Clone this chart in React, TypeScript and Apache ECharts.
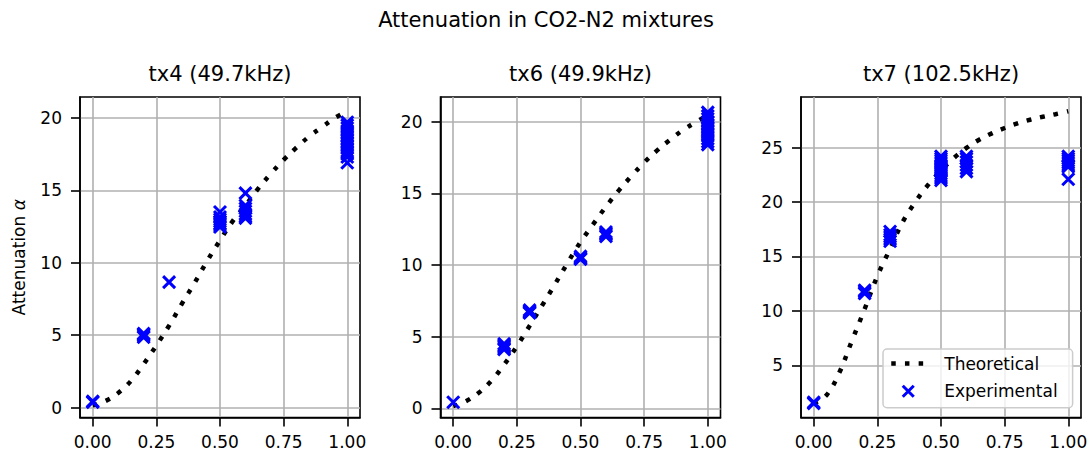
import React, { useEffect, useRef } from 'react';
import * as echarts from 'echarts';

const FONT = 'DejaVu Sans';

const suptitle = 'Attenuation in CO2-N2 mixtures';
const panelTitles = ['tx4 (49.7kHz)', 'tx6 (49.9kHz)', 'tx7 (102.5kHz)'];
const yLabel = 'Attenuation {a|α}';

const xTicks = [0, 0.25, 0.5, 0.75, 1.0];
const yTicksLow = [0, 5, 10, 15, 20];
const yTicksHigh = [5, 10, 15, 20, 25];

const theoryX = [0, 0.05, 0.1, 0.15, 0.2, 0.25, 0.3, 0.35, 0.4, 0.45, 0.5, 0.55, 0.6, 0.65, 0.7, 0.75, 0.8, 0.85, 0.9, 0.95, 1.0];
const tx4Theory = [0.15, 0.45, 1.0, 1.83, 3.0, 4.28, 5.65, 7.16, 8.6, 10.13, 11.54, 12.87, 13.95, 15.11, 16.15, 17.1, 17.94, 18.71, 19.35, 19.98, 20.45];
const tx6Theory = [0.15, 0.5, 1.08, 1.92, 3.05, 4.33, 5.75, 7.2, 8.66, 10.17, 11.6, 12.85, 14.07, 15.19, 16.2, 17.15, 17.98, 18.71, 19.38, 19.94, 20.45];
const tx7Theory = [1.5, 2.25, 4.3, 7.25, 10.17, 13.2, 15.7, 18.2, 20.04, 21.6, 22.9, 24.04, 24.98, 25.73, 26.32, 26.81, 27.23, 27.57, 27.84, 28.08, 28.35];

const tx4ExpX = [0, 0, 0.2, 0.2, 0.2, 0.2, 0.3, 0.5, 0.5, 0.5, 0.5, 0.5, 0.5, 0.5, 0.6, 0.6, 0.6, 0.6, 0.6, 0.6, 0.6, 1, 1, 1, 1, 1, 1, 1, 1, 1, 1, 1, 1, 1, 1];
const tx4ExpY = [0.37, 0.42, 4.85, 4.95, 5.05, 5.1, 8.66, 13.5, 13.15, 13.0, 12.85, 12.7, 12.6, 12.46, 14.8, 13.95, 13.75, 13.55, 13.35, 13.2, 13.08, 19.7, 19.5, 19.3, 19.1, 18.9, 18.7, 18.5, 18.3, 18.1, 17.9, 17.7, 17.5, 17.3, 16.9];

const tx6ExpX = [0, 0.2, 0.2, 0.2, 0.2, 0.2, 0.3, 0.3, 0.3, 0.3, 0.5, 0.5, 0.5, 0.5, 0.6, 0.6, 0.6, 0.6, 1, 1, 1, 1, 1, 1, 1, 1, 1, 1, 1, 1];
const tx6ExpY = [0.42, 4.5, 4.4, 4.3, 4.2, 4.1, 6.85, 6.75, 6.7, 6.65, 10.6, 10.5, 10.45, 10.4, 12.3, 12.2, 12.1, 12.0, 20.65, 20.4, 20.2, 20.0, 19.8, 19.6, 19.4, 19.2, 19.0, 18.8, 18.6, 18.4];

const tx7ExpX = [0, 0, 0.2, 0.2, 0.2, 0.3, 0.3, 0.3, 0.3, 0.3, 0.5, 0.5, 0.5, 0.5, 0.5, 0.5, 0.5, 0.5, 0.5, 0.5, 0.5, 0.5, 0.6, 0.6, 0.6, 0.6, 0.6, 0.6, 1, 1, 1, 1, 1, 1, 1];
const tx7ExpY = [1.5, 1.6, 11.9, 11.75, 11.6, 17.3, 17.0, 16.8, 16.6, 16.4, 24.2, 24.0, 23.8, 23.6, 23.4, 23.2, 23.0, 22.8, 22.6, 22.4, 22.2, 22.0, 24.2, 24.0, 23.7, 23.4, 23.1, 22.8, 24.2, 24.0, 23.8, 23.6, 23.4, 23.25, 22.1];

const X_SYMBOL = 'path://M0 0L10 10M10 0L0 10';
const BLUE = '#0000ff';

const panels = [
  { title: panelTitles[0], left: 80, yMin: -0.69, yMax: 21.44, yTicks: yTicksLow, theory: tx4Theory, ex: tx4ExpX, ey: tx4ExpY },
  { title: panelTitles[1], left: 440.5, yMin: -0.64, yMax: 21.72, yTicks: yTicksLow, theory: tx6Theory, ex: tx6ExpX, ey: tx6ExpY },
  { title: panelTitles[2], left: 801, yMin: 0.2, yMax: 29.66, yTicks: yTicksHigh, theory: tx7Theory, ex: tx7ExpX, ey: tx7ExpY },
];

const GRID_TOP = 97;
const GRID_W = 280;
const GRID_H = 320.5;

function buildOption() {
  const grid = panels.map((p) => ({
    left: p.left, top: GRID_TOP, width: GRID_W, height: GRID_H,
    show: true, borderColor: '#000', borderWidth: 1.6, backgroundColor: 'transparent',
  }));
  const tickStyle = { color: '#000', width: 1.6 };
  const labelStyle = { fontSize: 17, color: '#000', fontFamily: FONT };
  const xAxis = panels.map((p, i) => ({
    type: 'value', gridIndex: i, min: -0.05, max: 1.05,
    axisLine: { show: true, onZero: false, lineStyle: tickStyle },
    axisTick: { show: true, customValues: xTicks, length: 9, lineStyle: tickStyle },
    axisLabel: { ...labelStyle, customValues: xTicks, margin: 16, formatter: (v: number) => v.toFixed(2) },
    splitLine: { show: true, lineStyle: { color: '#b0b0b0', width: 1.6 } },
  }));
  const yAxis = panels.map((p, i) => ({
    type: 'value', gridIndex: i, min: p.yMin, max: p.yMax,
    axisLine: { show: true, onZero: false, lineStyle: tickStyle },
    axisTick: { show: true, customValues: p.yTicks, length: 9, lineStyle: tickStyle },
    axisLabel: { ...labelStyle, customValues: p.yTicks, margin: 18, formatter: (v: number) => String(Math.round(v)) },
    splitLine: { show: true, lineStyle: { color: '#b0b0b0', width: 1.6 } },
    ...(i === 0
      ? {
          name: yLabel, nameLocation: 'middle', nameGap: 53, nameRotate: 90,
          nameTextStyle: { ...labelStyle, rich: { a: { fontSize: 17, fontFamily: FONT, fontStyle: 'italic', color: '#000' } } },
        }
      : {}),
  }));
  const series: any[] = [];
  panels.forEach((p, i) => {
    series.push({
      type: 'line', name: 'Theoretical', xAxisIndex: i, yAxisIndex: i,
      data: theoryX.map((x, j) => [x, p.theory[j]]),
      symbol: 'none', showSymbol: false, smooth: 0.4, z: 2,
      itemStyle: { color: '#000' },
      lineStyle: { color: '#000', width: 4.5, type: [4.5, 9.2], cap: 'butt' },
    });
    series.push({
      type: 'scatter', name: 'Experimental', xAxisIndex: i, yAxisIndex: i,
      data: p.ex.map((x, j) => [x, p.ey[j]]),
      symbol: X_SYMBOL, symbolSize: 12, z: 3,
      itemStyle: { color: BLUE, borderColor: BLUE, borderWidth: 3, opacity: 1 },
    });
  });
  const graphic = [
    { type: 'text', x: 546, y: 20, style: { text: suptitle, fontSize: 21, fontFamily: FONT, fill: '#000', align: 'center', verticalAlign: 'middle' } },
    ...panels.map((p) => ({
      type: 'text', x: p.left + GRID_W / 2, y: 74,
      style: { text: p.title, fontSize: 21, fontFamily: FONT, fill: '#000', align: 'center', verticalAlign: 'middle' },
    })),
  ];
  return {
    animation: false,
    backgroundColor: '#ffffff',
    grid, xAxis, yAxis, series, graphic,
    legend: {
      left: 883, top: 349, orient: 'vertical', selectedMode: false,
      itemWidth: 34, itemHeight: 11, itemGap: 10.7,
      padding: [6, 15, 8, 6],
      backgroundColor: 'rgba(255,255,255,0.8)', borderColor: '#cccccc', borderWidth: 1.5, borderRadius: 4,
      textStyle: { fontSize: 17, color: '#000', fontFamily: FONT, padding: [0, 0, 0, 14] },
      data: [
        { name: 'Theoretical', itemStyle: { color: 'rgba(0,0,0,0)', borderWidth: 0, opacity: 0 }, lineStyle: { color: '#000', width: 4.5, type: [4.5, 9.2], cap: 'butt', opacity: 1 } },
        { name: 'Experimental', itemStyle: { color: BLUE, borderColor: BLUE, borderWidth: 3, opacity: 1 } },
      ],
    },
  };
}

export default function App() {
  const ref = useRef<HTMLDivElement>(null);
  useEffect(() => {
    const chart = echarts.init(ref.current!, null, { renderer: 'svg' });
    chart.setOption(buildOption() as any);
    return () => chart.dispose();
  }, []);
  return (
    <div
      ref={ref}
      style={{ position: 'absolute', left: 0, top: 0, width: 1092, height: 456, background: '#fff' }}
    />
  );
}
